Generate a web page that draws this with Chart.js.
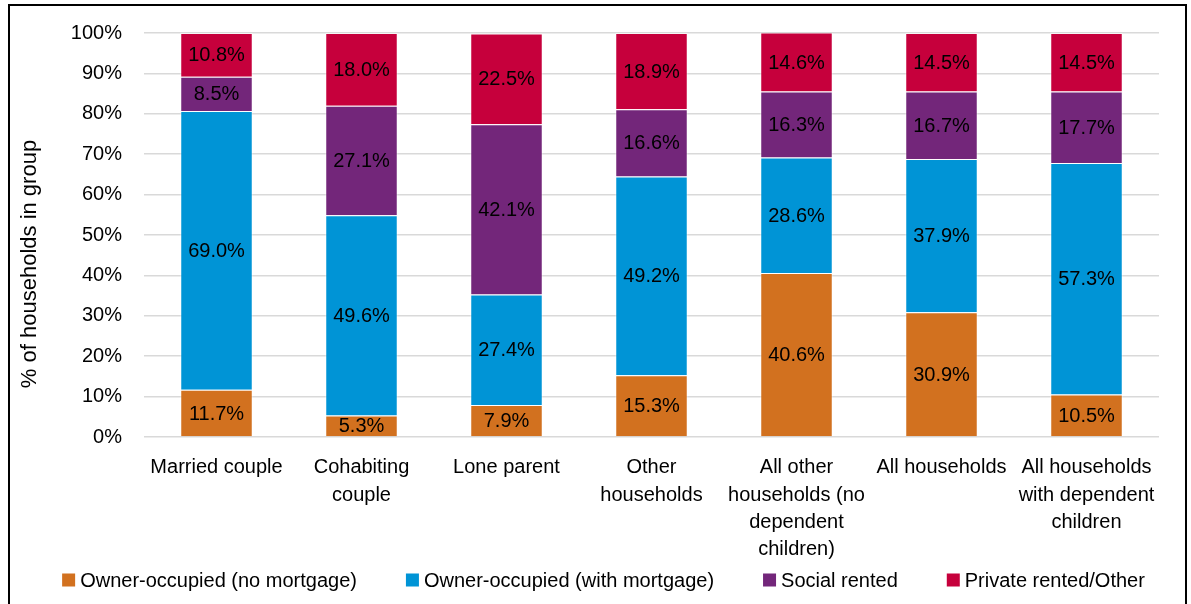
<!DOCTYPE html>
<html>
<head>
<meta charset="utf-8">
<script src="https://cdn.jsdelivr.net/npm/chart.js@4.4.1/dist/chart.umd.min.js"></script>
<style>
  body { margin: 0; background: #fff; overflow: hidden; }
  #frame { position: absolute; left: 8px; top: 4px; width: 1175px; height: 640px; border: 2px solid #000; }
  #wrap { position: relative; width: 1175px; height: 598px; }
</style>
</head>
<body>
<div id="frame"><div id="wrap"><canvas id="tenureChart"></canvas></div></div>
<script>
const categories = [
  'Married couple',
  ['Cohabiting', 'couple'],
  'Lone parent',
  ['Other', 'households'],
  ['All other', 'households (no', 'dependent', 'children)'],
  'All households',
  ['All households', 'with dependent', 'children']
];
const ownedOutright = [11.7, 5.3, 7.9, 15.3, 40.6, 30.9, 10.5];
const ownedMortgage = [69.0, 49.6, 27.4, 49.2, 28.6, 37.9, 57.3];
const socialRented = [8.5, 27.1, 42.1, 16.6, 16.3, 16.7, 17.7];
const privateRented = [10.8, 18.0, 22.5, 18.9, 14.6, 14.5, 14.5];
const seriesNames = ['Owner-occupied (no mortgage)', 'Owner-occupied (with mortgage)', 'Social rented', 'Private rented/Other'];
const seriesColors = ['#D2711F', '#0094D6', '#73267A', '#C6003C'];
const yTitle = '% of households in group';

const FONT = "'Liberation Sans', Arial, sans-serif";
const FS = 20;

// labels in the middle of each segment
const segmentLabels = {
  id: 'segmentLabels',
  afterDatasetsDraw(chart) {
    const ctx = chart.ctx;
    ctx.save();
    ctx.font = FS + 'px ' + FONT;
    ctx.fillStyle = '#000';
    ctx.textAlign = 'center';
    ctx.textBaseline = 'middle';
    chart.data.datasets.forEach((ds, i) => {
      chart.getDatasetMeta(i).data.forEach((bar, j) => {
        const mid = (bar.y + bar.base) / 2;
        ctx.fillText(ds.data[j].toFixed(1) + '%', bar.x, mid + 1);
      });
    });
    ctx.restore();
  }
};

// legend row along the bottom + y axis title (sits a bit low, like the original)
const extras = {
  id: 'extras',
  afterDraw(chart) {
    const ctx = chart.ctx;
    const box = 13, gap = 5, spacing = 49;
    ctx.save();
    ctx.font = FS + 'px ' + FONT;
    ctx.textBaseline = 'middle';
    ctx.textAlign = 'left';
    const widths = chart.data.datasets.map(ds => box + gap + ctx.measureText(ds.label).width);
    const total = widths.reduce((a, b) => a + b, 0) + spacing * (widths.length - 1);
    let x = chart.width / 2 - total / 2 + 6;
    const y = 574;
    chart.data.datasets.forEach((ds, i) => {
      ctx.fillStyle = ds.backgroundColor;
      ctx.fillRect(x, y - box / 2, box, box);
      ctx.fillStyle = '#000';
      ctx.fillText(ds.label, x + box + gap, y + 1);
      x += widths[i] + spacing;
    });

    ctx.translate(20, 258);
    ctx.rotate(-Math.PI / 2);
    ctx.font = '22px ' + FONT;
    ctx.textAlign = 'center';
    ctx.fillText(yTitle, 0, 0);
    ctx.restore();
  }
};

const seriesData = [ownedOutright, ownedMortgage, socialRented, privateRented];

const ctx = document.getElementById('tenureChart').getContext('2d');
const tenureChart = new Chart(ctx, {
  type: 'bar',
  data: {
    labels: categories,
    datasets: seriesData.map((d, i) => ({
      label: seriesNames[i],
      data: d,
      backgroundColor: seriesColors[i],
      borderColor: 'rgba(255,255,255,0.5)',
      borderWidth: 1,
      categoryPercentage: 1,
      barPercentage: 0.5
    }))
  },
  options: {
    responsive: true,
    maintainAspectRatio: false,
    animation: false,
    layout: { padding: { top: 27, right: 26, bottom: 30, left: 0 } },
    plugins: { legend: { display: false }, tooltip: { enabled: false } },
    scales: {
      x: {
        stacked: true,
        grid: { display: false, drawTicks: false },
        border: { display: false },
        ticks: { color: '#000', font: { family: FONT, size: FS, lineHeight: 1.37 }, padding: 17, maxRotation: 0, autoSkip: false },
        afterFit: s => { s.height = 137; }
      },
      y: {
        stacked: true,
        min: 0,
        max: 100,
        grid: { color: '#D9D9D9', lineWidth: 1.5, tickLength: 14, tickColor: 'rgba(0,0,0,0)' },
        border: { display: false },
        ticks: { stepSize: 10, color: '#000', font: { family: FONT, size: FS }, padding: 8, callback: v => v + '%' },
        afterFit: s => { s.width = 134; }
      }
    }
  },
  plugins: [segmentLabels, extras]
});
</script>
</body>
</html>
